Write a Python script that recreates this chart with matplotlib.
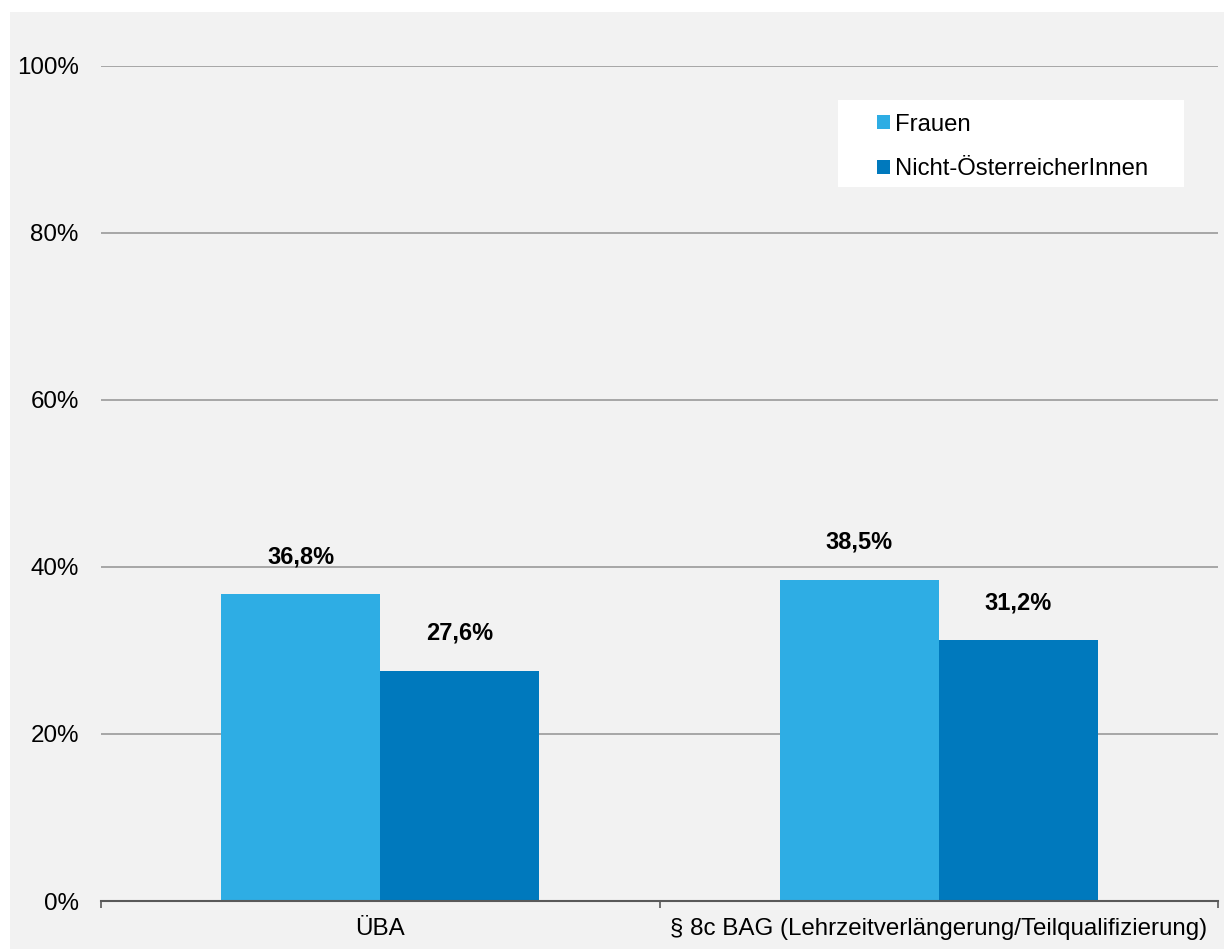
import matplotlib
matplotlib.use("Agg")
import matplotlib.pyplot as plt
from matplotlib.patches import Rectangle, Patch

plt.rcParams['font.family'] = ['Liberation Sans', 'DejaVu Sans']

categories = ["ÜBA", "§ 8c BAG (Lehrzeitverlängerung/Teilqualifizierung)"]
series_names = ["Frauen", "Nicht-ÖsterreicherInnen"]
frauen = [36.8, 38.5]
nicht_oe = [27.6, 31.2]
value_labels_frauen = ["36,8%", "38,5%"]
value_labels_nicht = ["27,6%", "31,2%"]
yticks = [0, 20, 40, 60, 80, 100]
ytick_labels = ["0%", "20%", "40%", "60%", "80%", "100%"]

colors = ["#2EADE4", "#0079BD"]
bg = "#F2F2F2"

W, H = 1224, 949
fig = plt.figure(figsize=(W / 100, H / 100), dpi=100)
fig.patch.set_facecolor("white")
fig.patches.append(Rectangle((10 / W, 0), 1 - 10 / W, 1 - 12 / H,
                             transform=fig.transFigure, facecolor=bg,
                             edgecolor="none", zorder=-5))

ax = fig.add_axes([101 / W, 1 - 901 / H, (1218 - 101) / W, (901 - 66) / H])
ax.set_facecolor(bg)
ax.set_zorder(0)

bw = 0.285
x = list(range(len(categories)))
b1 = ax.bar([i - bw / 2 for i in x], frauen, width=bw, color=colors[0], zorder=3)
b2 = ax.bar([i + bw / 2 for i in x], nicht_oe, width=bw, color=colors[1], zorder=3)

for bars, labels in ((b1, value_labels_frauen), (b2, value_labels_nicht)):
    for rect, lab in zip(bars, labels):
        ax.annotate(lab, (rect.get_x() + rect.get_width() / 2, rect.get_height()),
                    xytext=(0, 22), textcoords="offset points",
                    ha="center", va="baseline", fontsize=17,
                    fontweight="bold", color="black", zorder=4)

ax.set_xlim(-0.5, 1.5)
ax.set_ylim(0, 100)
ax.set_yticks(yticks)
ax.set_yticklabels(ytick_labels)
ax.set_xticks(x)
ax.set_xticklabels(categories)
ax.set_xticks([-0.5, 0.5, 1.5], minor=True)
ax.tick_params(axis="x", which="major", length=0, pad=12, labelsize=17.4)
ax.tick_params(axis="x", which="minor", length=5, width=1.2, color="#595959", direction="out")
ax.tick_params(axis="y", length=0, pad=16, labelsize=17.4)

ax.grid(axis="y", color="#9A9A9A", linewidth=1.2, zorder=1)
ax.set_axisbelow(True)
for s in ("top", "right", "left"):
    ax.spines[s].set_visible(False)
ax.spines["bottom"].set_color("#595959")
ax.spines["bottom"].set_linewidth(1.5)
ax.spines["bottom"].set_zorder(5)

# legend box
fig.patches.append(Rectangle((838 / W, 1 - 187 / H), (1184 - 838) / W, (187 - 100) / H,
                             transform=fig.transFigure, facecolor="white",
                             edgecolor="none", zorder=1))
handles = [Patch(facecolor=c, edgecolor="none") for c in colors]
leg = fig.legend(handles, series_names, loc="upper left",
                 bbox_to_anchor=(860 / W, 1 - 97 / H), frameon=False,
                 fontsize=17.2, handlelength=0.55, handleheight=0.55,
                 handletextpad=0.2, labelspacing=0.95, borderpad=0.2)
leg.set_zorder(6)

fig.savefig("out.png", dpi=100, facecolor=fig.get_facecolor())
